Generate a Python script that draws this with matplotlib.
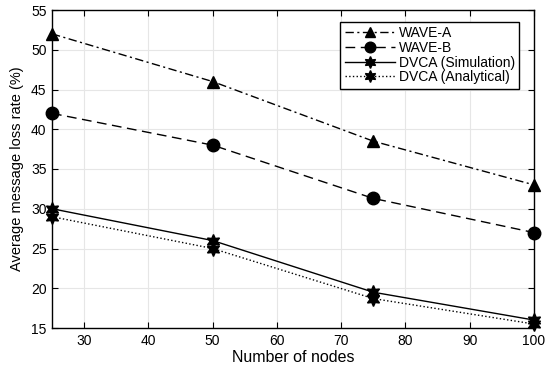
import matplotlib
matplotlib.use("Agg")
import matplotlib.pyplot as plt

plt.rcParams['font.family'] = ['Liberation Sans', 'DejaVu Sans']

nodes = [25, 50, 75, 100]
wave_a = [52, 46, 38.5, 33]
wave_b = [42, 38, 31.3, 27]
dvca_sim = [30, 26, 19.5, 16]
dvca_ana = [29, 25, 18.7, 15.5]
xticks = [30, 40, 50, 60, 70, 80, 90, 100]
yticks = [15, 20, 25, 30, 35, 40, 45, 50, 55]

fig = plt.figure(figsize=(5.5, 3.71), dpi=100)
ax = fig.add_axes([52/550, 43/371, 482/550, 318/371])

star = (6, 1, 0)
ax.plot(nodes, wave_a, color='black', linestyle=(0, (6, 2.5, 1.5, 2.5)), linewidth=1, marker='^', markersize=9, label='WAVE-A', clip_on=False)
ax.plot(nodes, wave_b, color='black', linestyle=(0, (7, 4)), linewidth=1, marker='o', markersize=9, label='WAVE-B', clip_on=False)
ax.plot(nodes, dvca_sim, color='black', linestyle='-', linewidth=1, marker=star, markersize=10, label='DVCA (Simulation)', clip_on=False)
ax.plot(nodes, dvca_ana, color='black', linestyle=':', linewidth=1, marker=star, markersize=10, label='DVCA (Analytical)', clip_on=False)

ax.set_xlim(25, 100)
ax.set_ylim(15, 55)
ax.set_xticks(xticks)
ax.set_yticks(yticks)
ax.tick_params(direction='in', length=4, labelsize=10, top=True, right=True, pad=4)
ax.grid(True, color='#e6e6e6', linewidth=0.8)
ax.set_axisbelow(True)
for s in ax.spines.values():
    s.set_linewidth(1)
ax.set_xlabel('Number of nodes', fontsize=11.5, labelpad=2)
ax.set_ylabel('Average message loss rate (%)', fontsize=10.5, labelpad=5)

leg = ax.legend(loc='upper right', bbox_to_anchor=(0.969, 0.962), borderaxespad=0, fontsize=10, fancybox=False,
                framealpha=1, edgecolor='black', handlelength=3.6, borderpad=0.3, labelspacing=0.05,
                handletextpad=0.3, markerscale=0.85)
leg.get_frame().set_linewidth(1)

fig.savefig('out.png', dpi=100)
